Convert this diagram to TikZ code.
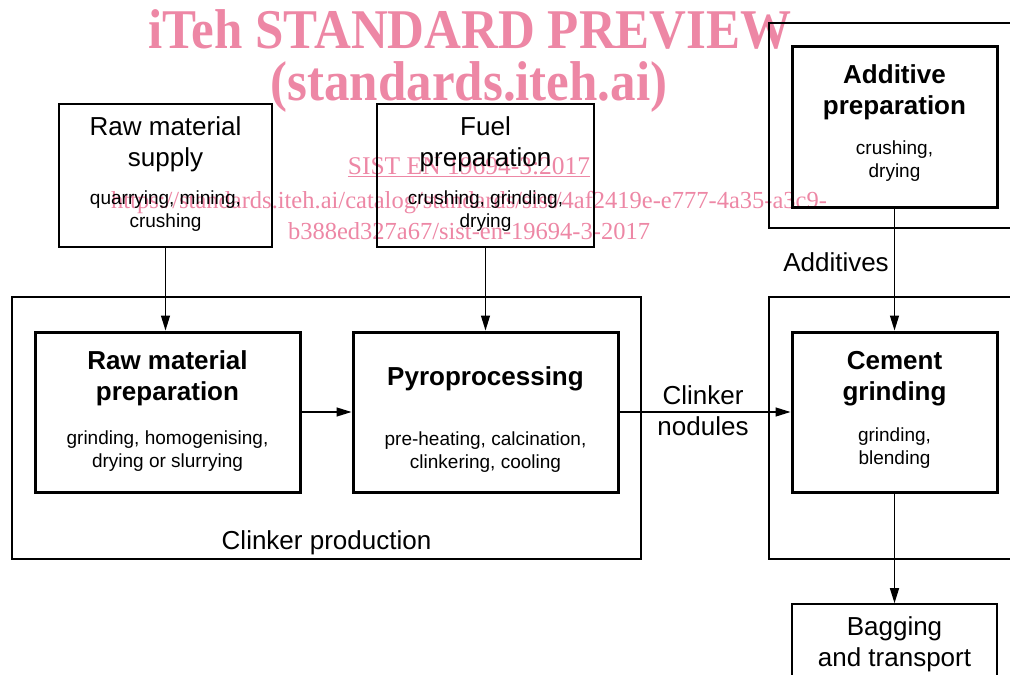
\documentclass[tikz,border=0pt]{standalone}
\usepackage{fontspec}
\setmainfont{Liberation Sans}
\newfontfamily\markfont{Liberation Serif}
\usepackage{tikz}
\usetikzlibrary{arrows.meta,positioning}
\definecolor{markpink}{RGB}{237,135,165}
\newcommand{\headsize}{\fontsize{26}{31}\selectfont}
\newcommand{\notesize}{\fontsize{19}{23}\selectfont}
\tikzset{
  stagebox/.style = {draw, inner sep=0pt, line width=1.6pt},
  MainBox/.style = {draw, inner sep=0pt, line width=3pt, minimum width=205pt, minimum height=160pt},
  GroupBox/.style = {draw, inner sep=0pt, line width=2pt},
  HeadText/.style = {align=center, inner sep=0pt, font=\headsize},
  BoldHead/.style = {HeadText, font=\headsize\bfseries},
  NoteText/.style = {align=center, inner sep=0pt, font=\notesize},
  MarkText/.style = {text=markpink, align=center, inner sep=0pt}
}

\begin{document}
\begin{tikzpicture}[->, >={Triangle[length=15pt, width=9pt]}, line width=1.3pt, x=1pt, y=-1pt]
    \useasboundingbox (0,0) rectangle (1010,675);
    \clip (0,0) rectangle (1010,675);

    % watermark
    \node [MarkText, font=\fontsize{51}{51}\markfont\bfseries] (marktitle) at (470,29) {\scalebox{1}[1.1]{iTeh STANDARD PREVIEW}};
    \node [MarkText, font=\fontsize{51}{51}\markfont\bfseries] (marksite) at (469,87) {\scalebox{1}[1.1]{(standards.iteh.ai)}};
    \node [MarkText, font=\fontsize{25.5}{31}\markfont] (markcode) at (469,167) {\underline{SIST EN 19694-3:2017}};
    \node [MarkText, font=\fontsize{24.5}{31}\markfont] (markurl) at (469,215)
        {https://standards.iteh.ai/catalog/standards/sist/4af2419e-e777-4a35-a3c9-\\b388ed327a67/sist-en-19694-3-2017};

    % group frames
    \node [GroupBox, minimum width=629pt, minimum height=262pt] (clinkergroup) at (326.5,428) {};
    \node [GroupBox, minimum width=271pt, minimum height=262pt] (cementgroup) at (904.5,428) {};
    \node [GroupBox, minimum width=271pt, minimum height=205pt] (additivegroup) at (904.5,125.5) {};

    % input stages
    \node [stagebox, minimum width=213pt, minimum height=143pt] (supply) at (165.5,175.5) {};
    \node [HeadText, below=13pt of supply.north] (supplyhead) {Raw material\\supply};
    \node [NoteText, above=15.5pt of supply.south] (supplynote) {quarrying, mining,\\crushing};

    \node [stagebox, minimum width=217pt, minimum height=143pt] (fuel) at (485.5,175.5) {};
    \node [HeadText, below=13pt of fuel.north] (fuelhead) {Fuel\\preparation};
    \node [NoteText, above=15.5pt of fuel.south] (fuelnote) {crushing, grinding,\\drying};

    \node [MainBox, minimum height=161pt] (additive) at (894.5,126.5) {};
    \node [BoldHead, below=20pt of additive.north] (additivehead) {Additive\\preparation};
    \node [NoteText, above=26.5pt of additive.south] (additivenote) {crushing,\\drying};

    % main stages
    \node [MainBox, minimum width=265pt] (rawprep) at (167.5,412) {};
    \node [BoldHead, below=20pt of rawprep.north] (rawprephead) {Raw material\\preparation};
    \node [NoteText, above=21.5pt of rawprep.south] (rawprepnote) {grinding, homogenising,\\drying or slurrying};

    \node [MainBox, minimum width=265pt] (pyro) at (485.5,412) {};
    \node [BoldHead, below=36pt of pyro.north] (pyrohead) {Pyroprocessing};
    \node [NoteText, above=20.5pt of pyro.south] (pyronote) {pre-heating, calcination,\\clinkering, cooling};

    \node [MainBox] (cement) at (894.5,412) {};
    \node [BoldHead, below=20pt of cement.north] (cementhead) {Cement\\grinding};
    \node [NoteText, above=24.5pt of cement.south] (cementnote) {grinding,\\blending};

    \node [stagebox, minimum width=205pt, minimum height=96pt] (bagging) at (894.5,652) {};
    \node [HeadText, below=12.5pt of bagging.north] (bagginghead) {Bagging\\and transport};

    \node [HeadText, above=4pt of clinkergroup.south] (clinkerlabel) {Clinker production};
    \node [HeadText] (nodules) at (703,411) {Clinker\\nodules};
    \node [HeadText] (additives) at (836,262) {Additives};

    % flows
    \draw (supply.south) -- (supply.south |- rawprep.north);
    \draw (fuel.south) -- (pyro.north);
    \draw (rawprep.east) -- (pyro.west);
    \draw (pyro.east) -- (cement.west);
    \draw (additive.south) -- (cement.north);
    \draw (cement.south) -- (bagging.north);
\end{tikzpicture}
\end{document}
